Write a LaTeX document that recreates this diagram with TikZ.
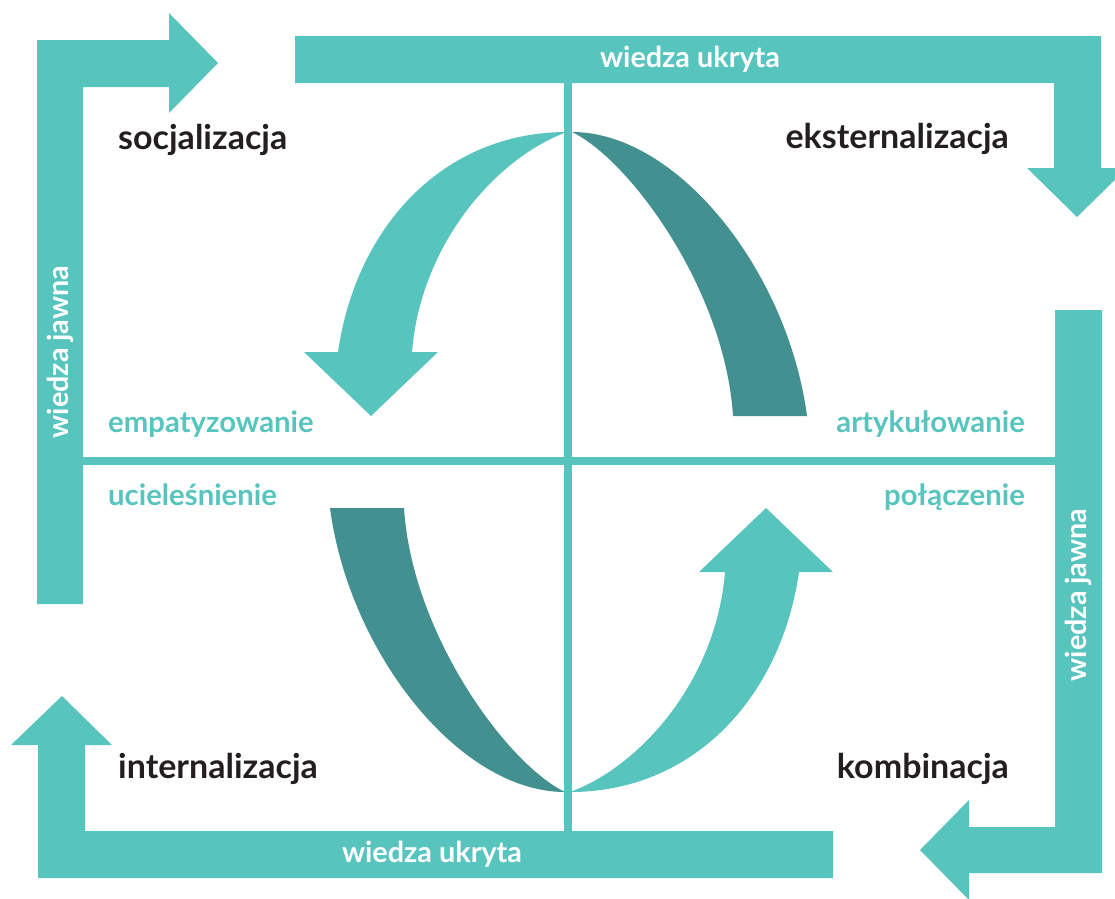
\documentclass[tikz,border=0pt]{standalone}
\usepackage{fontspec}
\setmainfont{Lato}
\definecolor{teal1}{HTML}{57C4BE}
\definecolor{teal2}{HTML}{42908F}
\definecolor{ink}{HTML}{231F20}
\begin{document}
\begin{tikzpicture}[x=1pt,y=-1pt,
  light/.style={fill=teal1},
  dark/.style={fill=teal2},
  title/.style={inner sep=0pt,text=ink,font=\bfseries\fontsize{34}{34}\selectfont},
  phase/.style={inner sep=0pt,text=teal1,font=\bfseries\fontsize{29.3}{29.3}\selectfont},
  barlabel/.style={inner sep=0pt,text=white,font=\bfseries\fontsize{28.8}{28.8}\selectfont}]
\useasboundingbox (0,0) rectangle (1115,898);

% outer L-shaped arrows
\fill[light] (37,604) -- (37,40) -- (169,40) -- (169,13) -- (218,63) -- (169,113)
  -- (169,87) -- (83,87) -- (83,604) -- cycle;
\fill[light] (295,36) -- (1101,36) -- (1101,168) -- (1127,168) -- (1077,217)
  -- (1027,168) -- (1054,168) -- (1054,83) -- (295,83) -- cycle;
\fill[light] (1055,310) -- (1102,310) -- (1102,873) -- (969,873) -- (969,900)
  -- (920,850) -- (969,800) -- (969,827) -- (1055,827) -- cycle;
\fill[light] (833,831) -- (833,878) -- (38,878) -- (38,745) -- (11,745) -- (62,696)
  -- (112,745) -- (85,745) -- (85,831) -- cycle;

% curved arrows of the spiral (upper pair, then the lower pair as their point reflection)
\fill[light] (567,132) .. controls (443,132) and (356,227) .. (338,352) -- (304,352)
  -- (371,416) -- (438,352) -- (412,352) .. controls (421,242) and (498,157) .. (567,132) -- cycle;
\fill[dark] (572,132) .. controls (678,132) and (788,272) .. (807,416) -- (733,416)
  .. controls (725,290) and (630,160) .. (572,132) -- cycle;
\begin{scope}[rotate around={180:(568.5,462)}]
\fill[light] (567,132) .. controls (443,132) and (356,227) .. (338,352) -- (304,352)
  -- (371,416) -- (438,352) -- (412,352) .. controls (421,242) and (498,157) .. (567,132) -- cycle;
\fill[dark] (572,132) .. controls (678,132) and (788,272) .. (807,416) -- (733,416)
  .. controls (725,290) and (630,160) .. (572,132) -- cycle;
\end{scope}

% quadrant cross
\fill[teal1] (564,83) rectangle (572,831);
\fill[teal1] (83,457) rectangle (1055,465);

% quadrant titles
\node[title,anchor=base west] (soc) at (118,149) {socjalizacja};
\node[title,anchor=base east] (eks) at (1009,148) {eksternalizacja};
\node[title,anchor=base west] (int) at (118,778) {internalizacja};
\node[title,anchor=base east] (kom) at (1009,778) {kombinacja};

% phase labels
\node[phase,anchor=base west] (emp) at (108,432) {empatyzowanie};
\node[phase,anchor=base east] (art) at (1025,432) {artykułowanie};
\node[phase,anchor=base west] (ucl) at (108,505) {ucieleśnienie};
\node[phase,anchor=base east] (pol) at (1025,505) {połączenie};

% labels on the bars
\node[barlabel] (uk1) at (690,59) {wiedza ukryta};
\node[barlabel] (uk2) at (432,854) {wiedza ukryta};
\node[barlabel,rotate=90] (jw1) at (60,352) {wiedza jawna};
\node[barlabel,rotate=90] (jw2) at (1078,595) {wiedza jawna};
\end{tikzpicture}
\end{document}
